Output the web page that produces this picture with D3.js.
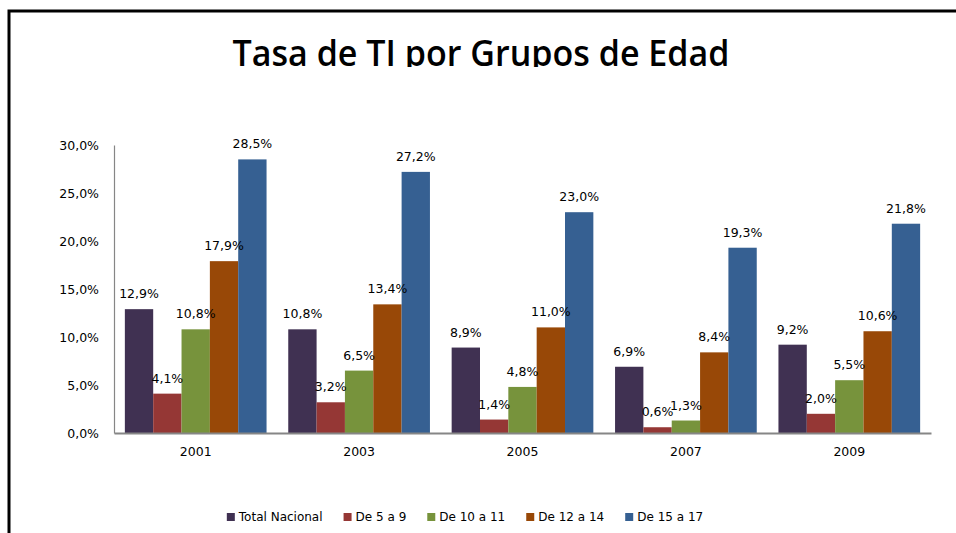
<!DOCTYPE html>
<html>
<head>
<meta charset="utf-8">
<script src="https://cdn.jsdelivr.net/npm/d3@7"></script>
<style>
  html, body { margin: 0; padding: 0; background: #fff; }
  svg { display: block; }
  text { font-family: "DejaVu Sans", Verdana, sans-serif; fill: #000; }
</style>
</head>
<body>
<svg class="graphic" width="956" height="533"></svg>
<script>
const years = ["2001", "2003", "2005", "2007", "2009"];
const seriesNames = ["Total Nacional", "De 5 a 9", "De 10 a 11", "De 12 a 14", "De 15 a 17"];
const seriesColors = ["#403152", "#953735", "#77933c", "#984807", "#366092"];

const totalNacional = [12.9, 10.8, 8.9, 6.9, 9.2];
const de5a9 = [4.1, 3.2, 1.4, 0.6, 2.0];
const de10a11 = [10.8, 6.5, 4.8, 1.3, 5.5];
const de12a14 = [17.9, 13.4, 11.0, 8.4, 10.6];
const de15a17 = [28.5, 27.2, 23.0, 19.3, 21.8];

const yTicks = [0, 5, 10, 15, 20, 25, 30];

const seriesValues = [totalNacional, de5a9, de10a11, de12a14, de15a17];

const $svg = d3.select('.graphic');
const PLOT = { left: 114, right: 931, top: 145, bottom: 433 };
const fmt = v => d3.format(".1f")(v).replace(".", ",") + "%";

// outer frame (cut by the picture edges)
$svg.append('rect')
  .attr('x', 9).attr('y', 11)
  .attr('width', 1000).attr('height', 600)
  .attr('fill', 'none').attr('stroke', '#000').attr('stroke-width', 3);

// title, clipped just under the baseline like the original
$svg.append('clipPath').attr('id', 'titleClip')
  .append('rect').attr('x', 0).attr('y', 0).attr('width', 956).attr('height', 67);

$svg.append('text')
  .attr('clip-path', 'url(#titleClip)')
  .attr('x', 481).attr('y', 66)
  .attr('text-anchor', 'middle')
  .attr('textLength', 497)
  .attr('lengthAdjust', 'spacingAndGlyphs')
  .style('font-family', '"Open Sans", sans-serif')
  .style('font-weight', 600)
  .style('font-size', '36px')
  .text('Tasa de TI por Grupos de Edad');

const x0 = d3.scaleBand()
  .domain(years)
  .range([PLOT.left, PLOT.right])
  .padding(0);

const x1 = d3.scaleBand()
  .domain(seriesNames)
  .range([0, x0.bandwidth()])
  .paddingInner(0)
  .paddingOuter(0.383);

const y = d3.scaleLinear()
  .domain([0, 30])
  .range([PLOT.bottom, PLOT.top]);

// y axis
$svg.append('g')
  .attr('transform', `translate(${PLOT.left},0)`)
  .call(d3.axisLeft(y).tickValues(yTicks).tickSize(0).tickPadding(15)
    .tickFormat(fmt))
  .call(g => g.select('.domain').attr('stroke', '#868686').attr('stroke-width', 1.2))
  .call(g => g.selectAll('.tick text').style('font-size', '12.5px').attr('fill', '#000'));

// bars
const groups = $svg.append('g')
  .selectAll('g')
  .data(years)
  .join('g')
  .attr('transform', d => `translate(${x0(d)},0)`);

groups.selectAll('rect')
  .data((d, i) => seriesNames.map((s, j) => ({ s, j, v: seriesValues[j][i] })))
  .join('rect')
  .attr('x', d => x1(d.s))
  .attr('y', d => y(d.v))
  .attr('width', x1.bandwidth())
  .attr('height', d => y(0) - y(d.v))
  .attr('fill', d => seriesColors[d.j]);

groups.selectAll('text')
  .data((d, i) => seriesNames.map((s, j) => ({ s, j, v: seriesValues[j][i] })))
  .join('text')
  .attr('x', d => x1(d.s) + x1.bandwidth() / 2)
  .attr('y', d => y(d.v) - 11)
  .attr('text-anchor', 'middle')
  .style('font-size', '12.5px')
  .text(d => fmt(d.v));

// x axis
$svg.append('g')
  .attr('transform', `translate(0,${PLOT.bottom})`)
  .call(d3.axisBottom(x0).tickSize(0).tickPadding(14))
  .call(g => g.select('.domain').attr('stroke', '#868686').attr('stroke-width', 2))
  .call(g => g.selectAll('.tick text').style('font-size', '12.5px').attr('fill', '#000'));

// legend
const legend = $svg.append('g').attr('transform', 'translate(0,517)');
const items = legend.selectAll('g')
  .data(seriesNames)
  .join('g');
items.append('rect')
  .attr('x', 0).attr('y', -4)
  .attr('width', 8).attr('height', 8)
  .attr('fill', (d, i) => seriesColors[i]);
items.append('text')
  .attr('x', 12).attr('y', 4)
  .style('font-size', '12px')
  .text(d => d);

let cx = 0;
const starts = [];
items.each(function () {
  starts.push(cx);
  cx += this.getBBox().width + 21;
});
const total = cx - 21;
const lx = 465 - total / 2;
items.attr('transform', (d, i) => `translate(${lx + starts[i]},0)`);
</script>
</body>
</html>
